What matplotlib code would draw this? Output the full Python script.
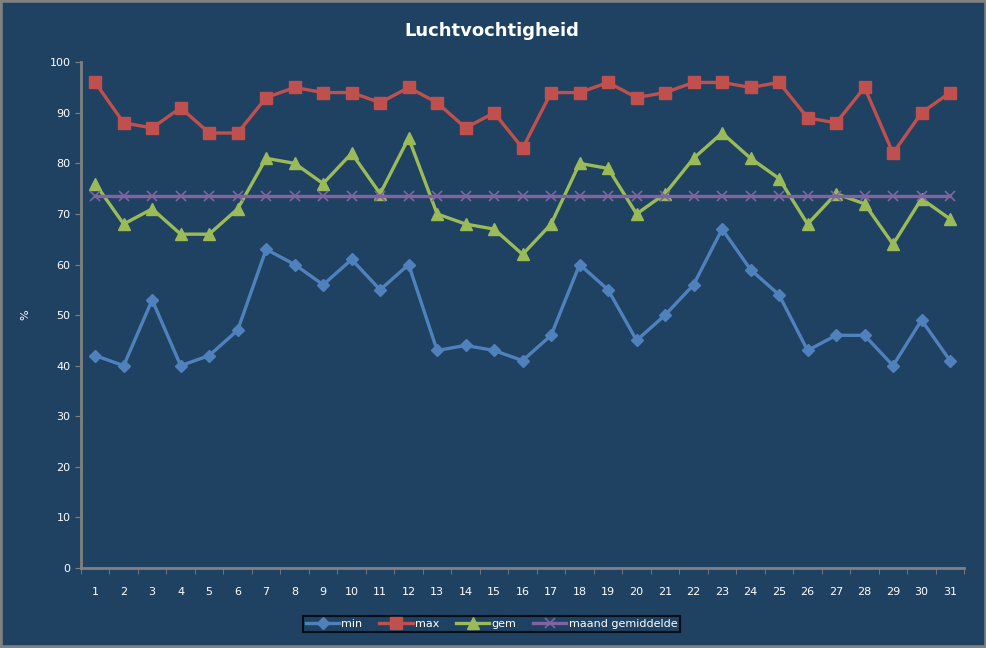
import matplotlib
matplotlib.use("Agg")
import matplotlib.pyplot as plt
from matplotlib.patches import Rectangle

days = list(range(1, 32))
vmin = [42, 40, 53, 40, 42, 47, 63, 60, 56, 61, 55, 60, 43, 44, 43, 41,
        46, 60, 55, 45, 50, 56, 67, 59, 54, 43, 46, 46, 40, 49, 41]
vmax = [96, 88, 87, 91, 86, 86, 93, 95, 94, 94, 92, 95, 92, 87, 90, 83,
        94, 94, 96, 93, 94, 96, 96, 95, 96, 89, 88, 95, 82, 90, 94]
gem = [76, 68, 71, 66, 66, 71, 81, 80, 76, 82, 74, 85, 70, 68, 67, 62,
       68, 80, 79, 70, 74, 81, 86, 81, 77, 68, 74, 72, 64, 73, 69]
maand_gem = [73.5] * 31

bg = "#1F4263"
fig = plt.figure(figsize=(9.87, 6.48), dpi=100, facecolor=bg)
ax = fig.add_axes([0.082, 0.1235, 0.895, 0.7805], facecolor=bg)

ax.plot(days, vmin, color="#4F81BD", lw=2.4, marker="D", ms=6.5, label="min")
ax.plot(days, vmax, color="#C0504D", lw=2.4, marker="s", ms=9, label="max")
ax.plot(days, gem, color="#9BBB59", lw=2.4, marker="^", ms=8.5, label="gem")
ax.plot(days, maand_gem, color="#8064A2", lw=2.4, marker="x", ms=7, mew=1.2,
        label="maand gemiddelde")

ax.set_xlim(0.5, 31.5)
ax.set_ylim(0, 100)
ax.set_yticks(range(0, 101, 10))
ax.set_xticks(days)
ax.set_xticks([d + 0.5 for d in range(0, 32)], minor=True)
ax.tick_params(axis="x", which="major", length=0, colors="white", labelsize=8, pad=14)
ax.tick_params(axis="x", which="minor", length=4, color="#808080")
ax.tick_params(axis="y", length=4, color="#808080", labelcolor="white", labelsize=8)
for s in ["top", "right"]:
    ax.spines[s].set_visible(False)
for s in ["left", "bottom"]:
    ax.spines[s].set_color("#808080")
    ax.spines[s].set_linewidth(2)

ax.set_ylabel("%", color="white", fontsize=8, rotation=90, labelpad=14)
fig.text(0.4985, 0.952, "Luchtvochtigheid", color="white", fontsize=13,
         fontweight="bold", ha="center", va="center")

leg = fig.legend(loc="center", bbox_to_anchor=(0.498, 0.037), ncol=4,
                 frameon=True, fontsize=8, fancybox=False, handlelength=3,
                 columnspacing=1.5, borderpad=0.3, handletextpad=0.2)
leg.get_frame().set_facecolor(bg)
leg.get_frame().set_edgecolor("black")
leg.get_frame().set_linewidth(1.5)
for t in leg.get_texts():
    t.set_color("white")

fig.patches.append(Rectangle((0, 0), 1, 1, transform=fig.transFigure,
                             fill=False, edgecolor="#808080", lw=4))

fig.savefig("out.png", dpi=100, facecolor=bg)
